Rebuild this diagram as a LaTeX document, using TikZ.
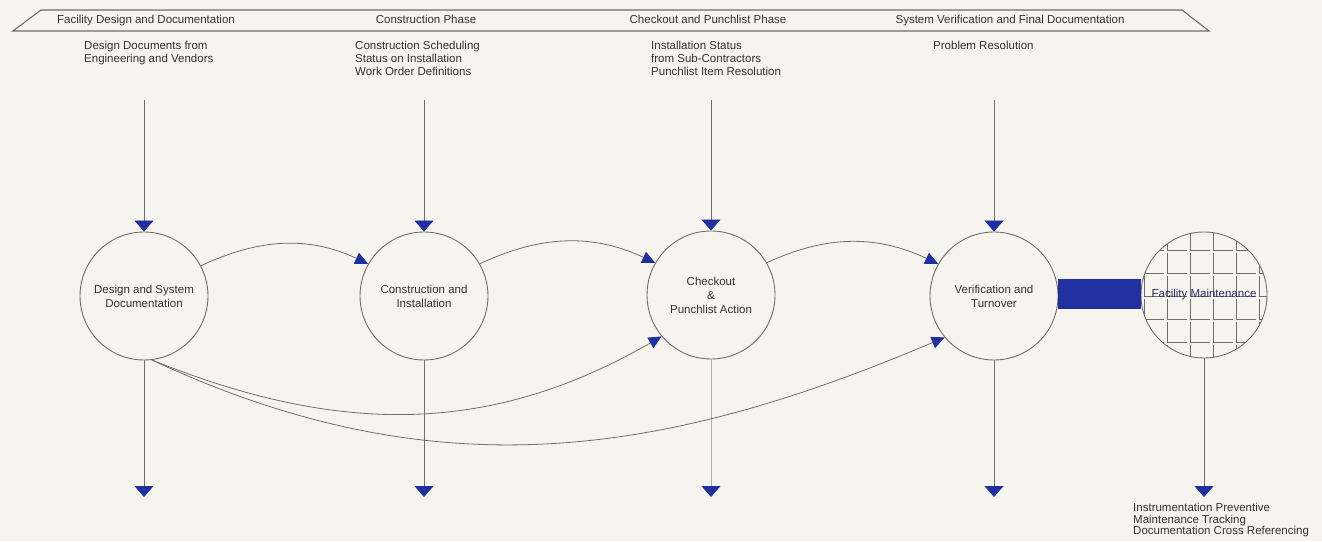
\documentclass[tikz,border=0pt]{standalone}
\usepackage{fontspec}
\setmainfont{Liberation Sans}
\usetikzlibrary{arrows.meta,calc}
\definecolor{bg}{RGB}{246,244,238}
\definecolor{ablue}{RGB}{33,48,160}
\definecolor{lgray}{RGB}{110,110,110}
\definecolor{txt}{RGB}{50,50,50}
\definecolor{fmtxt}{RGB}{45,45,100}
\begin{document}
\begin{tikzpicture}[x=1pt,y=1pt,
  every node/.style={font=\fontsize{11.5}{13}\selectfont, text=txt},
  proc/.style={circle, draw=lgray, line width=0.9pt, minimum size=128pt, inner sep=0pt, align=center, font=\fontsize{11.5}{14}\selectfont},
  flow/.style={draw=lgray, line width=0.8pt, -{Triangle[width=19pt,length=11pt,color=ablue]}},
  cflow/.style={draw=lgray, line width=0.8pt, -{Triangle[width=12pt,length=13pt,color=ablue]}},
  phase/.style={inner sep=0pt, anchor=base},
  desc/.style={inner sep=0pt, anchor=north west, align=left},
  gridl/.style={draw=lgray, line width=0.7pt}
]
\useasboundingbox (0,0) rectangle (1322,541);
\fill[bg] (0,0) rectangle (1322,541);

% banner
\draw[lgray, line width=1.1pt] (41,531) -- (1182,531) -- (1209,510) -- (13,510) -- cycle;
\node[phase] (p1) at (146,517) {Facility Design and Documentation};
\node[phase] (p2) at (426,517) {Construction Phase};
\node[phase] (p3) at (708,517) {Checkout and Punchlist Phase};
\node[phase] (p4) at (1010,517) {System Verification and Final Documentation};

% descriptions
\node[desc] (d1) at (84,500) {Design Documents from\\Engineering and Vendors};
\node[desc] (d2) at (355,500) {Construction Scheduling\\Status on Installation\\Work Order Definitions};
\node[desc] (d3) at (651,500) {Installation Status\\from Sub-Contractors\\Punchlist Item Resolution};
\node[desc] (d4) at (933,500) {Problem Resolution};

% grid for facility maintenance
\begin{scope}
\clip (1204,246) circle (63);
\foreach \x in {1121,1144,...,1259}
  \foreach \y in {153,176,...,314}
    \draw[gridl] (\x,\y+20) -- (\x,\y) -- (\x+20,\y);
\end{scope}

% process circles
\node[proc] (c1) at (144,245) {Design and System\\Documentation};
\node[proc] (c2) at (424,245) {Construction and\\Installation};
\node[proc] (c3) at (711,246) {Checkout\\\&\\Punchlist Action};
\node[proc] (c4) at (994,245) {Verification and\\Turnover};
\node[proc, minimum size=126pt, text=fmtxt] (c5) at (1204,246) {Facility Maintenance};

% blue bar
\fill[ablue] ($(c4.east)+(0,-13)$) rectangle ($(c5.west)+(0,16)$);

% top inputs
\coordinate (t1) at (144,441);
\coordinate (t2) at (424,441);
\coordinate (t3) at (711,441);
\coordinate (t4) at (994,441);
\draw[flow] (t1) -- (c1.north);
\draw[flow] (t2) -- (c2.north);
\draw[flow] (t3) -- (c3.north);
\draw[flow] (t4) -- (c4.north);

% bottom outputs
\coordinate (b1) at (144,44);
\coordinate (b2) at (424,44);
\coordinate (b3) at (711,44);
\coordinate (b4) at (994,44);
\coordinate (b5) at (1204,44);
\draw[flow] (c1.south) -- (b1);
\draw[flow] (c2.south) -- (b2);
\draw[flow, draw=lgray!55] (c3.south) -- (b3);
\draw[flow] (c4.south) -- (b4);
\draw[flow] (c5.south) -- (b5);

\node[desc, font=\fontsize{11.5}{11.5}\selectfont] (d5) at (1133,38) {Instrumentation Preventive\\Maintenance Tracking\\Documentation Cross Referencing};

% curved flows
\draw[cflow] (c1.28) to[out=25,in=155] (c2.150);
\draw[cflow] (c2.30) to[out=25,in=155] (c3.150);
\draw[cflow] (c3.30) to[out=25,in=155] (c4.150);
\draw[cflow] (c1.-83) to[out=-22,in=210] (c3.220);
\draw[cflow] (c1.-83) to[out=-25,in=203] (c4.220);
\end{tikzpicture}
\end{document}
